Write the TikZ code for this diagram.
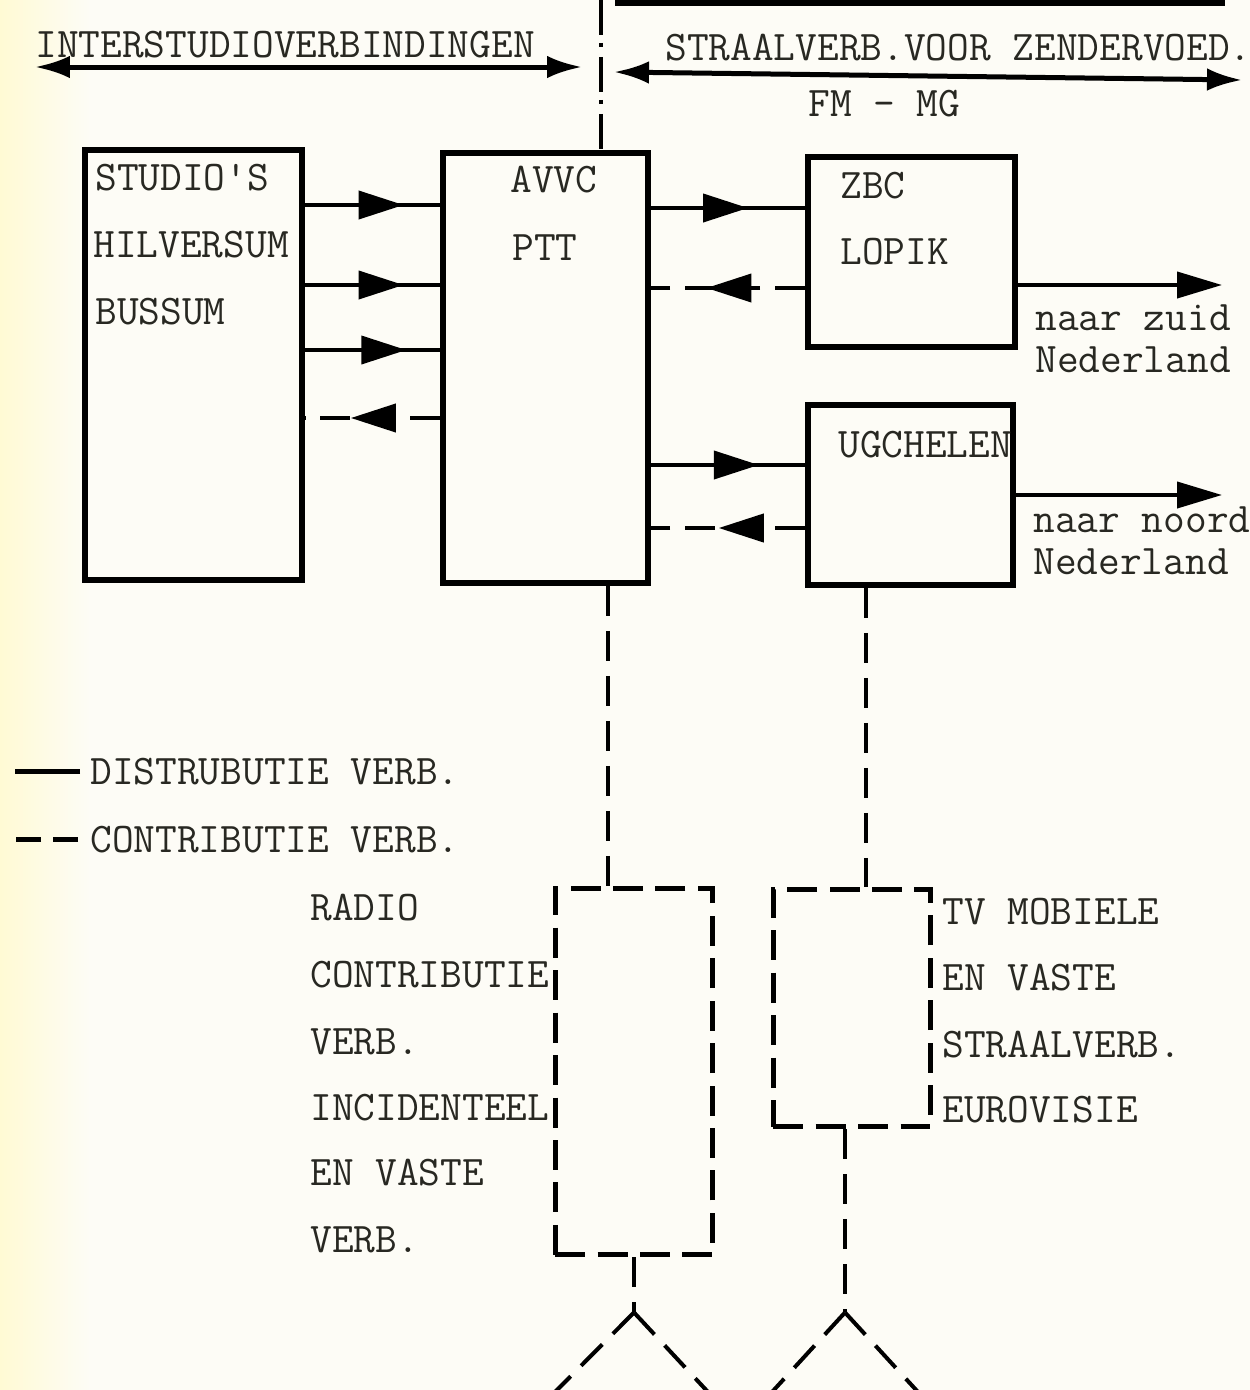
\documentclass[tikz,border=0pt]{standalone}
\usepackage{fontspec}
\usetikzlibrary{arrows.meta, decorations.markings}
\definecolor{papier}{RGB}{253,252,246}
\definecolor{vergeeld}{RGB}{255,250,212}
\definecolor{inkt}{RGB}{40,40,34}

\begin{document}
\begin{tikzpicture}[x=0.02cm, y=-0.02cm,
  every node/.style={font=\ttfamily\fontsize{24}{28}\selectfont, text=inkt, inner sep=0pt},
  blok/.style={draw, line width=0.12cm},
  kader/.style={draw, line width=0.1cm, dash pattern=on 0.6cm off 0.25cm},
  distr/.style={line width=0.08cm},
  contrib/.style={line width=0.08cm, dash pattern=on 0.6cm off 0.3cm},
  pijl/.style={postaction={decorate}, decoration={markings,
      mark=at position #1 with {\arrow{Triangle[length=0.9cm,width=0.56cm]}}}},
  lbl/.style={anchor=base west}]
  % achtergrond
  \fill[papier] (0,0) rectangle (1250,1390);
  \shade[left color=vergeeld, right color=papier] (0,0) rectangle (90,1390);
  \useasboundingbox (0,0) rectangle (1250,1390);
  % bovenkant
  \draw[line width=0.14cm] (615,2) -- (1225,2);
  \node[lbl] (isv) at (35,57) {INTERSTUDIOVERBINDINGEN};
  \node[lbl] (zv) at (665,60) {STRAALVERB.VOOR ZENDERVOED.};
  \node[lbl] (fmmg) at (808,116) {FM - MG};
  \coordinate (isvL) at (35,67);
  \coordinate (isvR) at (582,67);
  \coordinate (zvL) at (614,72);
  \coordinate (zvR) at (1242,80);
  \draw[line width=0.1cm, {Latex[length=0.7cm,width=0.45cm]}-{Latex[length=0.7cm,width=0.45cm]}] (isvL) -- (isvR);
  \draw[line width=0.1cm, {Latex[length=0.7cm,width=0.45cm]}-{Latex[length=0.7cm,width=0.45cm]}] (zvL) -- (zvR);
  % blokken
  \node[blok, minimum width=4.34cm, minimum height=8.6cm] (studio) at (193.5,365) {};
  \node[blok, minimum width=4.1cm, minimum height=8.6cm] (avvc) at (545.5,368) {};
  \node[blok, minimum width=4.14cm, minimum height=3.8cm] (zbc) at (911.5,252) {};
  \node[blok, minimum width=4.1cm, minimum height=3.6cm] (ugch) at (910.5,495) {};
  \node[kader, minimum width=3.16cm, minimum height=7.34cm] (radio) at (634,1071.5) {};
  \node[kader, minimum width=3.16cm, minimum height=4.76cm] (tv) at (852,1008) {};
  % teksten in de blokken
  \node[lbl] (st1) at (95,190) {STUDIO'S};
  \node[lbl] (st2) at (93,257) {HILVERSUM};
  \node[lbl] (st3) at (95,324) {BUSSUM};
  \node[lbl] (av1) at (510,192) {AVVC};
  \node[lbl] (av2) at (512,260) {PTT};
  \node[lbl] (zb1) at (840,198) {ZBC};
  \node[lbl] (zb2) at (840,264) {LOPIK};
  \node[lbl] (ug1) at (838,457) {UGCHELEN};
  % studio's -> AVVC
  \foreach \y/\p in {205/0.73, 285/0.73, 350/0.75}
    \draw[distr, pijl=\p] (studio.east |- 0,\y) -- (avvc.west |- 0,\y);
  \draw[contrib, pijl=0.66] (avvc.west |- 0,418) -- (studio.east |- 0,418);
  % AVVC <-> zenders
  \draw[distr, pijl=0.63] (avvc.east |- 0,208) -- (zbc.west |- 0,208);
  \draw[contrib, pijl=0.64] (zbc.west |- 0,288) -- (avvc.east |- 0,288);
  \draw[distr, pijl=0.7] (avvc.east |- 0,465) -- (ugch.west |- 0,465);
  \draw[contrib, pijl=0.56] (ugch.west |- 0,528) -- (avvc.east |- 0,528);
  % naar zuid / noord
  \coordinate (zuid) at (1222,285);
  \coordinate (noord) at (1222,495);
  \draw[distr, -{Triangle[length=0.9cm,width=0.52cm]}] (zbc.east |- zuid) -- (zuid);
  \draw[distr, -{Triangle[length=0.9cm,width=0.52cm]}] (ugch.east |- noord) -- (noord);
  \node[lbl] (nz1) at (1035,330) {naar zuid};
  \node[lbl] (nz2) at (1035,372) {Nederland};
  \node[lbl] (nn1) at (1033,532) {naar noord};
  \node[lbl] (nn2) at (1033,574) {Nederland};
  % scheiding
  \coordinate (boven) at (601,0);
  \draw[line width=0.07cm, dash pattern=on 0.7cm off 0.16cm on 0.08cm off 0.2cm] (boven) -- (boven |- avvc.north);
  % legenda
  \node[lbl] (lgd1) at (90,784) {DISTRUBUTIE VERB.};
  \node[lbl] (lgd2) at (90,852) {CONTRIBUTIE VERB.};
  \draw[line width=0.1cm] ([xshift=-0.2cm]lgd1.west) -- ++(-65,0);
  \draw[line width=0.1cm, dash pattern=on 0.5cm off 0.24cm] ([xshift=-0.24cm]lgd2.west) -- ++(-63,0);
  % contributie
  \draw[contrib] ([xshift=1.25cm]avvc.south) coordinate (r0) -- (r0 |- radio.north);
  \draw[contrib] ([xshift=-0.89cm]ugch.south) coordinate (t0) -- (t0 |- tv.north);
  \node[lbl] (ra1) at (310,920) {RADIO};
  \node[lbl] (ra2) at (310,987) {CONTRIBUTIE};
  \node[lbl] (ra3) at (310,1054) {VERB.};
  \node[lbl] (ra4) at (310,1120) {INCIDENTEEL};
  \node[lbl] (ra5) at (310,1185) {EN VASTE};
  \node[lbl] (ra6) at (310,1252) {VERB.};
  \node[lbl] (tv1) at (942,924) {TV MOBIELE};
  \node[lbl] (tv2) at (942,990) {EN VASTE};
  \node[lbl] (tv3) at (942,1057) {STRAALVERB.};
  \node[lbl] (tv4) at (942,1122) {EUROVISIE};
  % antennes
  \draw[contrib] (radio.south) -- ++(0,55) coordinate (rant);
  \draw[contrib] (rant) -- (555,1392);
  \draw[contrib] (rant) -- (708,1392);
  \draw[contrib] ([xshift=-0.14cm]tv.south) -- ++(0,183) coordinate (tant);
  \draw[contrib] (tant) -- (772,1392);
  \draw[contrib] (tant) -- (918,1392);
\end{tikzpicture}
\end{document}
